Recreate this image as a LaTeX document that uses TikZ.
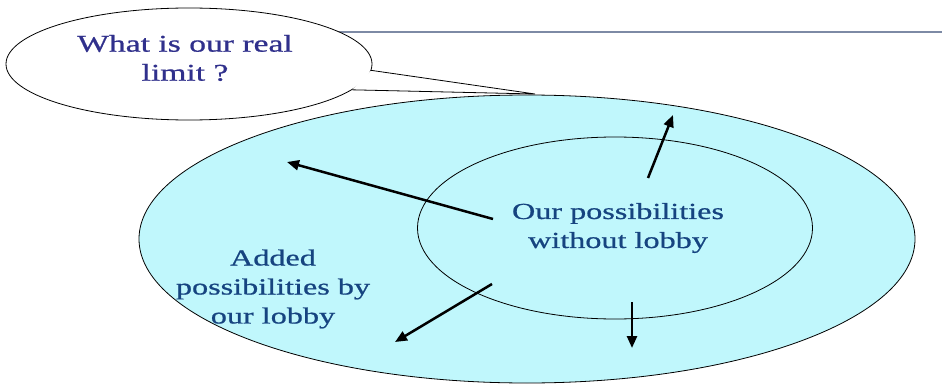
\documentclass[tikz,border=0pt]{standalone}
\usepackage{fontspec}
\usepackage{tikz}
\usetikzlibrary{arrows.meta,shapes.geometric}
\newfontfamily\slidefont[FakeStretch=1.4,FakeBold=0.8]{Liberation Serif}
\definecolor{lightcyan}{RGB}{192,247,252}
\definecolor{asknavy}{RGB}{48,48,140}
\definecolor{textblue}{RGB}{22,68,128}
\definecolor{rulegray}{RGB}{125,138,165}

\begin{document}
\begin{tikzpicture}[x=1pt, y=-1pt,
    region/.style={draw, ellipse, line width=0.8pt, inner sep=0pt},
    label/.style={align=center, text=textblue, font=\slidefont\fontsize{23}{29}\selectfont},
    arrow/.style={-{Triangle[length=12pt,width=10pt]}, line width=2.5pt}
]
\useasboundingbox (0,0) rectangle (942,385);

% title rule
\coordinate (rulestart) at (300,32);
\coordinate (ruleend) at (942,32);
\draw[rulegray, line width=2pt] (rulestart) -- (ruleend);

\node[region, fill=lightcyan, minimum width=776pt, minimum height=288pt] (outer) at (527,239) {};
\node[region, minimum width=395pt, minimum height=182pt] (inner) at (615,228) {};

% speech bubble
\node[region, fill=white, minimum width=366pt, minimum height=112pt] (bubble) at (189,64) {};
\coordinate (tip) at (535,94);
\fill[white] (bubble.-2) -- (tip) -- (bubble.-9) -- cycle;
\draw[line width=0.8pt] (bubble.-2) -- (tip) -- (bubble.-9);

\node[label, text=asknavy, font=\slidefont\fontsize{24}{29}\selectfont] (question) at (185,58) {What is our real\\limit ?};
\node[label] (within) at (618,228) {Our possibilities\\without lobby};
\node[label] (added) at (273,289) {Added\\possibilities by\\our lobby};

\coordinate (leftfrom) at (493,219);
\coordinate (leftto) at (287,162);
\coordinate (downleftfrom) at (492,284);
\coordinate (downleftto) at (395,342);
\coordinate (upfrom) at (648,178);
\coordinate (upto) at (673,115);
\coordinate (downfrom) at (632,302);
\coordinate (downto) at (632,348);

\draw[arrow] (leftfrom) -- (leftto);
\draw[arrow] (downleftfrom) -- (downleftto);
\draw[arrow] (upfrom) -- (upto);
\draw[arrow] (downfrom) -- (downto);
\end{tikzpicture}
\end{document}
